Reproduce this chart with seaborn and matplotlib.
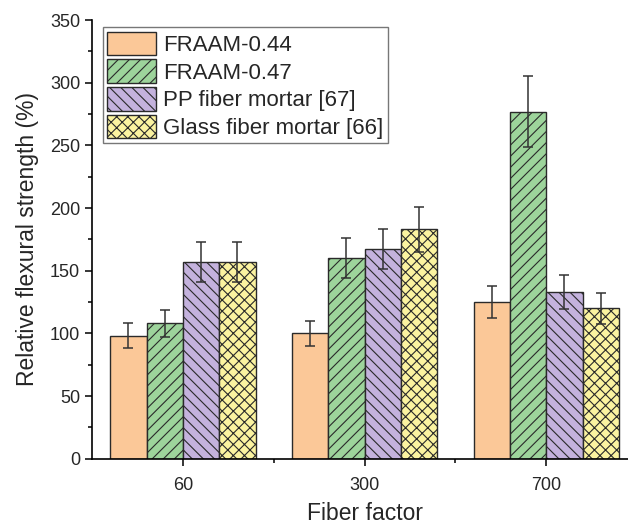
import matplotlib
matplotlib.use('Agg')
import matplotlib.pyplot as plt
from matplotlib.ticker import MultipleLocator, FixedLocator
import seaborn as sns
import pandas as pd

# Категорії та значення
fiber_factors = ['60', '300', '700']
series_names = ['FRAAM-0.44', 'FRAAM-0.47', 'PP fiber mortar [67]', 'Glass fiber mortar [66]']
fraam_044 = [98, 100, 125]
fraam_047 = [108, 160, 277]
pp_mortar = [157, 167, 133]
glass_mortar = [157, 183, 120]
fraam_044_err = [10, 10, 12.5]
fraam_047_err = [11, 16, 28]
pp_mortar_err = [16, 16, 13.5]
glass_mortar_err = [16, 18, 12.5]

colors = ['#FBC898', '#9DD49B', '#C4B2DD', '#FBF3A0']
hatches = ['', '///', '\\\\\\', 'xxx']

values = [fraam_044, fraam_047, pp_mortar, glass_mortar]
errors = [fraam_044_err, fraam_047_err, pp_mortar_err, glass_mortar_err]

rows = []
for name, vals, errs in zip(series_names, values, errors):
    for ff, v, e in zip(fiber_factors, vals, errs):
        rows.append({'Fiber factor': ff, 'series': name, 'value': v, 'err': e})
df = pd.DataFrame(rows)

sns.set_style('ticks')
plt.rcParams['font.family'] = ['Liberation Sans', 'DejaVu Sans']
plt.rcParams['hatch.linewidth'] = 0.8
plt.rcParams['hatch.color'] = '#2a2a2a'

fig = plt.figure(figsize=(6.28, 5.25), dpi=100)
ax = fig.add_axes([0.1465, 0.1263, 0.868, 0.8356])

sns.barplot(data=df, x='Fiber factor', y='value', hue='series', order=fiber_factors,
            hue_order=series_names, palette=colors, errorbar=None, width=0.8,
            edgecolor='#2a2a2a', linewidth=1.0, saturation=1, ax=ax)

# Штриховка та планки похибок
bar_groups = list(ax.containers)
for i, cont in enumerate(bar_groups):
    for j, bar in enumerate(cont):
        bar.set_hatch(hatches[i])
        cx = bar.get_x() + bar.get_width() / 2
        ax.errorbar(cx, bar.get_height(), yerr=errors[i][j], color='#333333',
                    elinewidth=1.1, capsize=3.5, capthick=1.1, fmt='none', zorder=5)

ax.set_xlim(-0.5, 2.5)
ax.set_ylim(0, 350)
ax.yaxis.set_major_locator(MultipleLocator(50))
ax.yaxis.set_minor_locator(MultipleLocator(25))
ax.xaxis.set_minor_locator(FixedLocator([0.5, 1.5]))
ax.tick_params(axis='both', which='major', labelsize=13, length=5, width=1.1, color='black')
ax.tick_params(axis='x', which='major', pad=8)
ax.tick_params(axis='both', which='minor', length=3, width=1.1, color='black')
sns.despine(ax=ax)
for s in ['left', 'bottom']:
    ax.spines[s].set_linewidth(1.2)
    ax.spines[s].set_color('black')

ax.set_xlabel('Fiber factor', fontsize=16.5, labelpad=6)
ax.set_ylabel('Relative flexural strength (%)', fontsize=16.5, labelpad=8)

leg = ax.legend(loc='upper left', bbox_to_anchor=(0.02, 0.983), fontsize=16,
                frameon=True, fancybox=False, edgecolor='#555555', handlelength=2.2,
                handleheight=1.25, labelspacing=0.15, handletextpad=0.3,
                borderpad=0.2, borderaxespad=0, title=None)
leg.get_frame().set_linewidth(1.0)
for h, hh in zip(leg.get_patches(), hatches):
    h.set_hatch(hh)

fig.savefig('out.png', dpi=100)
